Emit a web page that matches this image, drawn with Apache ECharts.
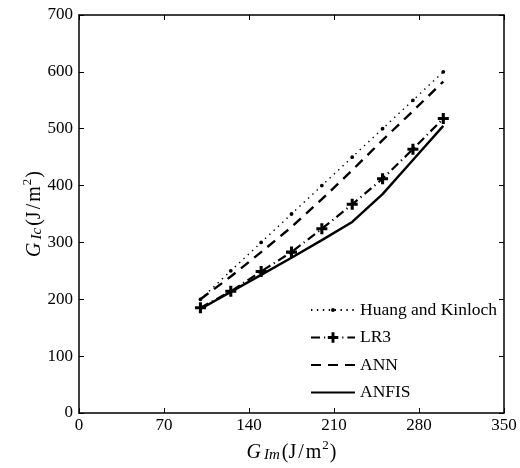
<!DOCTYPE html>
<html>
<head>
<meta charset="utf-8">
<style>
  html, body { margin: 0; padding: 0; background: #fff; }
  #chart { width: 520px; height: 468px; }
</style>
<script src="https://cdn.jsdelivr.net/npm/echarts@6/dist/echarts.min.js"></script>
</head>
<body>
<div id="chart"></div>
<script>
// G_Im values (J/m^2)
const gIm = [100, 125, 150, 175, 200, 225, 250, 275, 300];

// Predicted G_Ic values (J/m^2) for each model
const huangKinloch = [200, 250, 300, 350, 400, 450, 500, 550, 600];
const lr3 = [185, 214, 249, 283, 324, 367, 412, 464, 518];
const ann = [200, 240, 283, 327, 376, 427, 480, 531, 583];
const anfis = [183, 213, 243, 273, 304, 336, 385, 445, 505];

const xTicks = [0, 70, 140, 210, 280, 350];
const yTicks = [0, 100, 200, 300, 400, 500, 600, 700];

const FONT = '"Liberation Serif", "DejaVu Serif", serif';
// thick plus marker
const plus = 'path://M3.6,0H6.4V3.6H10V6.4H6.4V10H3.6V6.4H0V3.6H3.6Z';
// small dot inside a 10x10 box (corner points only set the box size)
const dot = 'path://M0,0L0.01,0M10,10L10.01,10M5,3.1A1.9,1.9,0,1,1,5,6.9A1.9,1.9,0,1,1,5,3.1Z';

function pairs(ys) {
  return gIm.map((x, i) => [x, ys[i]]);
}

// axis title with italic symbol, subscript and squared unit
function titleRich() {
  return {
    i: { fontFamily: FONT, fontStyle: 'italic', fontSize: 20, color: '#000', lineHeight: 24, verticalAlign: 'bottom', padding: [0, 2, 0, 0] },
    sub: { fontFamily: FONT, fontStyle: 'italic', fontSize: 15, color: '#000', lineHeight: 14, verticalAlign: 'bottom', padding: [0, 2, 0, 1] },
    n: { fontFamily: FONT, fontSize: 20, color: '#000', lineHeight: 24, verticalAlign: 'bottom', padding: [0, 2, 0, 0] },
    m: { fontFamily: FONT, fontSize: 20, color: '#000', lineHeight: 24, verticalAlign: 'bottom' },
    sup: { fontFamily: FONT, fontSize: 13, color: '#000', lineHeight: 13, verticalAlign: 'top', padding: [0, 1, 0, 1] }
  };
}

const chart = echarts.init(document.getElementById('chart'), null, { renderer: 'canvas' });

const tickStyle = { show: true, inside: true, length: 5, lineStyle: { color: '#000', width: 1 } };
const lineAxis = { show: true, onZero: false, lineStyle: { color: '#000', width: 1.5 } };

chart.setOption({
  animation: false,
  backgroundColor: '#fff',
  grid: { left: 79, right: 16, top: 15, bottom: 55, containLabel: false },
  legend: {
    left: 305,
    top: 296,
    orient: 'vertical',
    itemWidth: 44,
    itemHeight: 13,
    itemGap: 9.5,
    align: 'left',
    textStyle: { fontFamily: FONT, fontSize: 17.5, color: '#000' },
    data: [
      { name: 'Huang and Kinloch' },
      { name: 'LR3' },
      { name: 'ANN', itemStyle: { opacity: 0 } },
      { name: 'ANFIS', itemStyle: { opacity: 0 } }
    ]
  },
  xAxis: [{
    type: 'value',
    min: xTicks[0],
    max: xTicks[xTicks.length - 1],
    interval: 70,
    position: 'bottom',
    axisLine: lineAxis,
    axisTick: tickStyle,
    splitLine: { show: false },
    axisLabel: { fontFamily: FONT, fontSize: 17, color: '#000', margin: 4 },
    name: '{i|G}{sub|Im}{n|(J}{n|/}{m|m}{sup|2}{m|)}',
    nameLocation: 'middle',
    nameGap: 25,
    nameTextStyle: { rich: titleRich() }
  }, {
    type: 'value',
    min: xTicks[0],
    max: xTicks[xTicks.length - 1],
    interval: 70,
    position: 'top',
    axisLine: lineAxis,
    axisTick: tickStyle,
    splitLine: { show: false },
    axisLabel: { show: false }
  }],
  yAxis: [{
    type: 'value',
    min: yTicks[0],
    max: yTicks[yTicks.length - 1],
    interval: 100,
    position: 'left',
    axisLine: lineAxis,
    axisTick: tickStyle,
    splitLine: { show: false },
    axisLabel: { fontFamily: FONT, fontSize: 17, color: '#000', margin: 6 },
    name: '{i|G}{sub|Ic}{n|(J}{n|/}{m|m}{sup|2}{m|)}',
    nameLocation: 'middle',
    nameRotate: 90,
    nameGap: 34,
    nameMoveOverlap: false,
    nameTextStyle: { rich: titleRich() }
  }, {
    type: 'value',
    min: yTicks[0],
    max: yTicks[yTicks.length - 1],
    interval: 100,
    position: 'right',
    axisLine: lineAxis,
    axisTick: tickStyle,
    splitLine: { show: false },
    axisLabel: { show: false }
  }],
  series: [{
    name: 'Huang and Kinloch',
    type: 'line',
    data: pairs(huangKinloch),
    symbol: dot,
    symbolSize: 10,
    showAllSymbol: true,
    itemStyle: { color: '#000' },
    lineStyle: { color: '#000', width: 1.4, type: [1.4, 4.5] },
    z: 2
  }, {
    name: 'LR3',
    type: 'line',
    data: pairs(lr3),
    symbol: plus,
    symbolSize: 11,
    showAllSymbol: true,
    itemStyle: { color: '#000' },
    lineStyle: { color: '#000', width: 2.2, type: [9, 4, 1.2, 4] },
    z: 3
  }, {
    name: 'ANN',
    type: 'line',
    data: pairs(ann),
    symbol: 'none',
    itemStyle: { color: '#000' },
    lineStyle: { color: '#000', width: 2.4, type: [10, 7] },
    z: 2
  }, {
    name: 'ANFIS',
    type: 'line',
    data: pairs(anfis),
    symbol: 'none',
    itemStyle: { color: '#000' },
    lineStyle: { color: '#000', width: 2.4, type: 'solid' },
    z: 2
  }]
});
</script>
</body>
</html>
